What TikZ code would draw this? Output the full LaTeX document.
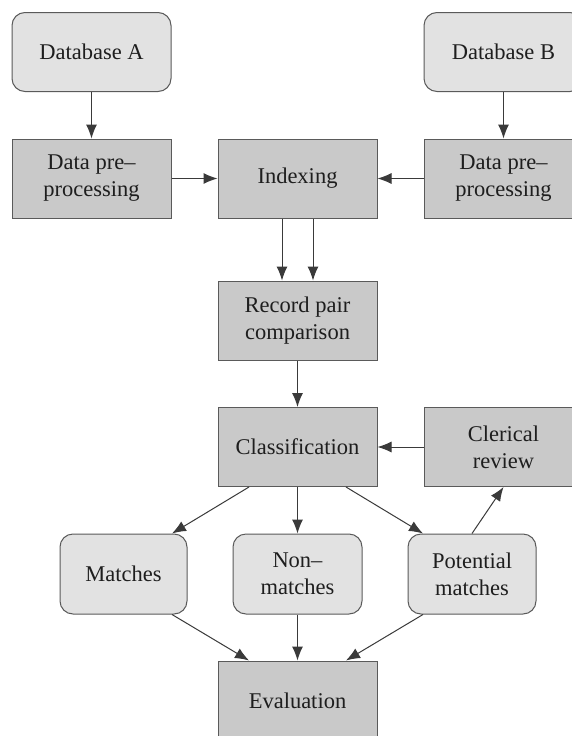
\documentclass[tikz,border=0pt]{standalone}
\usepackage{fontspec}
\setmainfont{Liberation Serif}
\usetikzlibrary{arrows.meta}
\definecolor{darkfill}{HTML}{C9C9C9}
\definecolor{lightfill}{HTML}{E2E2E2}
\definecolor{edgegray}{HTML}{5A5A5A}
\definecolor{linegray}{HTML}{3A3A3A}
\definecolor{textgray}{HTML}{1E1E1E}
\tikzset{
  procbox/.style={draw=edgegray, line width=1pt, fill=darkfill, minimum width=159pt, minimum height=79pt,
    align=center, text=textgray, font=\fontsize{22.5}{27}\selectfont, inner sep=2pt},
  databox/.style={procbox, fill=lightfill, rounded corners=13pt},
  smallbox/.style={databox, minimum width=128pt, minimum height=80pt},
  arr/.style={draw=linegray, line width=1pt, -{Latex[length=14pt,width=11pt]}},
}
\begin{document}
\begin{tikzpicture}[x=1pt,y=-1pt]
\clip (0,0) rectangle (572,736);
\fill[white] (0,0) rectangle (572,736);
\node[databox] (dbA) at (91.5,52) {Database A};
\node[databox] (dbB) at (503.5,52) {Database B};
\node[procbox] (dpA) at (91.5,178.5) {Data pre–\\processing};
\node[procbox] (idx) at (297.5,178.5) {Indexing};
\node[procbox] (dpB) at (503.5,178.5) {Data pre–\\processing};
\node[procbox] (rpc) at (297.5,320.5) {Record pair\\comparison};
\node[procbox] (cls) at (297.5,447) {Classification};
\node[procbox] (cler) at (503.5,447) {Clerical\\review};
\node[smallbox, minimum width=127pt] (mat) at (123.5,574) {Matches};
\node[smallbox, minimum width=129pt] (non) at (297.5,574) {Non–\\matches};
\node[smallbox] (pot) at (472,574) {Potential\\matches};
\node[procbox, minimum height=80pt] (eva) at (297.5,701) {Evaluation};

\draw[arr] (dbA) -- (dpA);
\draw[arr] (dpA) -- (idx);
\draw[arr] (dbB) -- (dpB);
\draw[arr] (dpB) -- (idx);
\draw[arr] ([xshift=-15.5pt]idx.south) -- ([xshift=-15.5pt]rpc.north);
\draw[arr] ([xshift=15.5pt]idx.south) -- ([xshift=15.5pt]rpc.north);
\draw[arr] (rpc) -- (cls);
\draw[arr] (cler) -- (cls);
\draw[arr] ([xshift=-48.5pt]cls.south) -- ([xshift=48.5pt]mat.north);
\draw[arr] (cls) -- (non);
\draw[arr] ([xshift=48.5pt]cls.south) -- ([xshift=-49pt]pot.north);
\draw[arr] (pot.north) -- (cler.south);
\draw[arr] ([xshift=48.5pt]mat.south) -- ([xshift=-48.5pt]eva.north);
\draw[arr] (non) -- (eva);
\draw[arr] ([xshift=-49pt]pot.south) -- ([xshift=48.5pt]eva.north);
\end{tikzpicture}
\end{document}
